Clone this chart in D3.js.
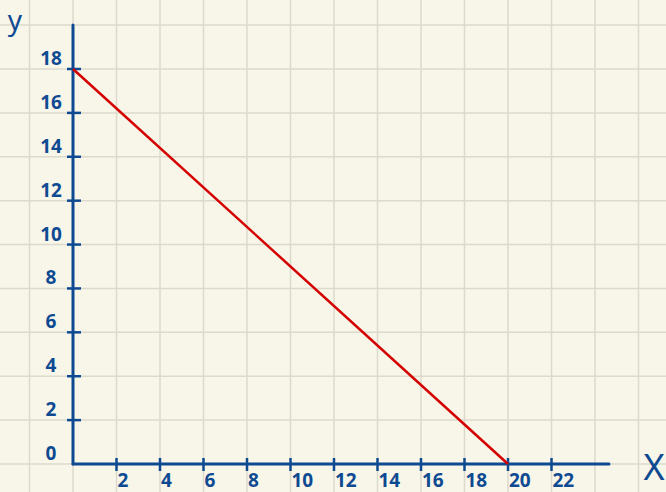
<!DOCTYPE html>
<html>
<head>
<meta charset="utf-8">
<script src="https://cdn.jsdelivr.net/npm/d3@7"></script>
<style>
  html, body { margin: 0; padding: 0; background: #f8f5e9; }
  svg { display: block; }
  .lbl { font-family: "Noto Sans", sans-serif; font-weight: 700; fill: #0e4a92; }
  .name { font-family: "Noto Sans", sans-serif; font-weight: 400; fill: #0e4a92; }
</style>
</head>
<body>
<div id="container"></div>
<script>
// data
const xTicks = [2, 4, 6, 8, 10, 12, 14, 16, 18, 20, 22]
const yTicks = [0, 2, 4, 6, 8, 10, 12, 14, 16, 18]
const gridX = [-2, 0, 2, 4, 6, 8, 10, 12, 14, 16, 18, 20, 22, 24, 26]
const gridY = [-2, 0, 2, 4, 6, 8, 10, 12, 14, 16, 18, 20, 22]
const lineX = [0, 20]
const lineY = [18, 0]

const width = 666
const height = 492
const blue = "#0e4a92"

const xScale = d3.scaleLinear().domain([0, 20]).range([73, 508])
const yScale = d3.scaleLinear().domain([0, 18]).range([464, 69])

const svg = d3.select("#container").append("svg")
    .attr("width", width)
    .attr("height", height)

svg.append("rect")
   .attr("width", width)
   .attr("height", height)
   .attr("fill", "#f8f5e9")

/* grid paper */
svg.selectAll(".gx")
   .data(gridX)
   .enter()
   .append("line")
   .attr("x1", d => xScale(d)).attr("x2", d => xScale(d))
   .attr("y1", 0).attr("y2", height)
   .attr("stroke", "#dcdacd")
   .attr("stroke-width", 1.5)

svg.selectAll(".gy")
   .data(gridY)
   .enter()
   .append("line")
   .attr("y1", d => yScale(d)).attr("y2", d => yScale(d))
   .attr("x1", 0).attr("x2", width)
   .attr("stroke", "#dcdacd")
   .attr("stroke-width", 1.5)

/* axes */
svg.append("line")
   .attr("x1", xScale(0)).attr("x2", xScale(0))
   .attr("y1", 25).attr("y2", yScale(0))
   .attr("stroke", blue).attr("stroke-width", 3).attr("stroke-linecap", "round")

svg.append("line")
   .attr("x1", xScale(0)).attr("x2", 609)
   .attr("y1", yScale(0)).attr("y2", yScale(0))
   .attr("stroke", blue).attr("stroke-width", 3).attr("stroke-linecap", "round")

// y ticks + labels
svg.selectAll(".yt")
   .data(yTicks.filter(d => d > 0))
   .enter()
   .append("line")
   .attr("x1", xScale(0) - 6).attr("x2", xScale(0) + 8)
   .attr("y1", d => yScale(d)).attr("y2", d => yScale(d))
   .attr("stroke", blue).attr("stroke-width", 2.5)

svg.selectAll(".yl")
   .data(yTicks)
   .enter()
   .append("text")
   .attr("class", "lbl")
   .attr("x", 51)
   .attr("y", d => yScale(d) - 4)
   .attr("text-anchor", "middle")
   .attr("font-size", 19)
   .text(d => d)

// x ticks + labels
svg.selectAll(".xt")
   .data(xTicks)
   .enter()
   .append("line")
   .attr("x1", d => xScale(d)).attr("x2", d => xScale(d))
   .attr("y1", yScale(0) - 6).attr("y2", yScale(0) + 7)
   .attr("stroke", blue).attr("stroke-width", 2.5)

svg.selectAll(".xl")
   .data(xTicks)
   .enter()
   .append("text")
   .attr("class", "lbl")
   .attr("x", d => xScale(d) + 1)
   .attr("y", 487)
   .attr("font-size", 19)
   .text(d => d)

// axis names
svg.append("text")
   .attr("class", "name")
   .attr("x", 15).attr("y", 30)
   .attr("text-anchor", "middle")
   .attr("font-size", 28)
   .text("y")

svg.append("text")
   .attr("class", "name")
   .attr("x", 654).attr("y", 480)
   .attr("text-anchor", "middle")
   .attr("font-size", 36)
   .text("X")

/* the red line */
const line = d3.line()
    .x(d => xScale(d[0]))
    .y(d => yScale(d[1]))

svg.append("path")
   .datum(lineX.map((x, i) => [x, lineY[i]]))
   .attr("d", line)
   .attr("fill", "none")
   .attr("stroke", "#d40000")
   .attr("stroke-width", 2.5)
</script>
</body>
</html>
